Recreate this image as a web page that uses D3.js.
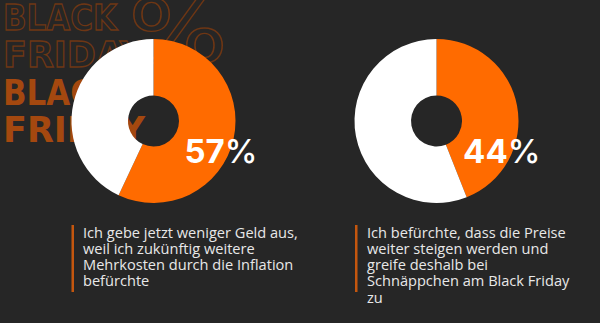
<!DOCTYPE html>
<html>
<head>
<meta charset="utf-8">
<script src="https://cdn.jsdelivr.net/npm/d3@7"></script>
<style>
  html, body { margin: 0; padding: 0; background: #262626; }
  svg { display: block; }
</style>
</head>
<body>
<svg id="chart" width="600" height="323"></svg>
<script>
// Survey answers: share of respondents agreeing with each statement (%)
const statements = [
  ["Ich gebe jetzt weniger Geld aus,", "weil ich zukünftig weitere", "Mehrkosten durch die Inflation", "befürchte"],
  ["Ich befürchte, dass die Preise", "weiter steigen werden und", "greife deshalb bei", "Schnäppchen am Black Friday", "zu"]
];
const shares = [57, 44];
const decoOutline = ["BLACK", "FRIDAY"];
const decoFilled = ["BLACK", "FRIDAY"];

const W = 600, H = 323;
const bg = "#262626", orange = "#ff6b00", white = "#ffffff";
const svg = d3.select("#chart");

svg.append("rect").attr("width", W).attr("height", H).attr("fill", bg);

// Decorative "BLACK FRIDAY %" lettering behind the first donut
const deco = svg.append("g").attr("font-family", "'DejaVu Sans', sans-serif").attr("font-weight", 700);
const decoY = d3.scalePoint().domain(d3.range(4)).range([30, 142]);
[...decoOutline, ...decoFilled].forEach((word, i) => {
  const outlined = i < 2;
  deco.append("text")
    .attr("x", 3).attr("y", decoY(i))
    .attr("font-size", 35)
    .attr("textLength", word.length === 5 ? 114 : 142)
    .attr("lengthAdjust", "spacingAndGlyphs")
    .attr("fill", outlined ? "none" : "#a4480f")
    .attr("stroke", outlined ? "#6e3614" : "none")
    .attr("stroke-width", 1.3)
    .text(word);
});
deco.append("text")
  .attr("x", 128).attr("y", 62)
  .attr("font-size", 88).attr("font-weight", 400)
  .attr("textLength", 100).attr("lengthAdjust", "spacingAndGlyphs")
  .attr("fill", "none").attr("stroke", "#6e3614").attr("stroke-width", 1.3)
  .text("%");

// Donuts
const x = d3.scalePoint().domain(d3.range(shares.length)).range([153.5, 436.5]);
const cy = 121;
const pie = d3.pie().sort(null).value(d => d);
const arc = d3.arc().innerRadius(25.5).outerRadius(82);

shares.forEach((s, i) => {
  const g = svg.append("g").attr("transform", `translate(${x(i)},${cy})`);
  g.selectAll("path")
    .data(pie([s, 100 - s]))
    .join("path")
    .attr("d", arc)
    .attr("fill", (d, j) => j === 0 ? orange : white);

  const t = g.append("text")
    .attr("x", 104).attr("y", 41.5)
    .attr("text-anchor", "end")
    .attr("font-family", "Inter, sans-serif")
    .attr("font-size", 33)
    .attr("fill", white);
  t.append("tspan").attr("font-weight", 700).text(s);
  t.append("tspan").attr("font-weight", 500).text("%");

  // Statement with accent bar
  const lx = x(i) - 82;
  const ty = svg.append("g").attr("transform", `translate(${lx},0)`);
  ty.append("rect")
    .attr("x", i === 0 ? 0 : 0.5).attr("y", 225)
    .attr("width", 2.5).attr("height", 67)
    .attr("fill", "#c4560e");
  ty.append("text")
    .attr("font-family", "'Open Sans', sans-serif")
    .attr("font-size", 14.6)
    .attr("fill", "#e8e8e8")
    .selectAll("tspan")
    .data(statements[i])
    .join("tspan")
    .attr("x", i === 0 ? 11.5 : 12.5)
    .attr("y", (d, j) => 237.5 + j * 16.3)
    .text(d => d);
});
</script>
</body>
</html>
